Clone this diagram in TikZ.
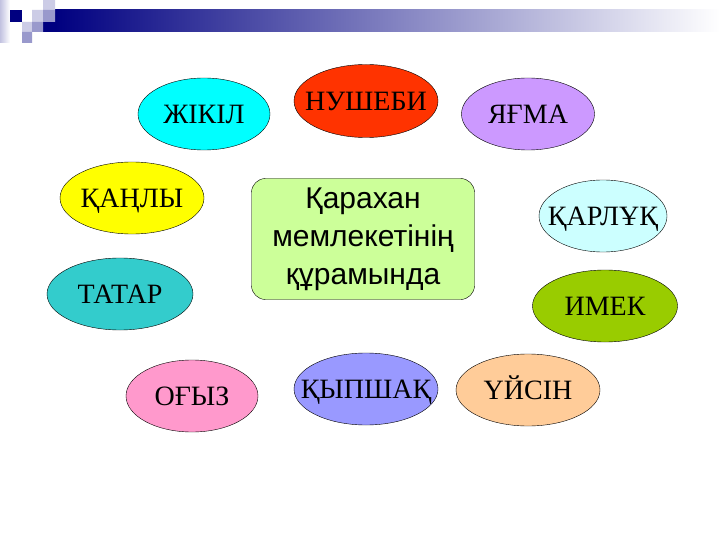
\documentclass[tikz,border=0pt]{standalone}
\usepackage{fontspec}
\setmainfont{Liberation Serif}
\setsansfont{Liberation Sans}
\usetikzlibrary{shapes}
\definecolor{navy}{RGB}{0,0,128}
\definecolor{lavlight}{RGB}{204,204,230}
\definecolor{lavmid}{RGB}{153,153,204}
\definecolor{kcyan}{RGB}{0,255,255}
\definecolor{kred}{RGB}{255,51,0}
\definecolor{kviolet}{RGB}{204,153,255}
\definecolor{kyellow}{RGB}{255,255,0}
\definecolor{kice}{RGB}{204,255,255}
\definecolor{kteal}{RGB}{51,204,204}
\definecolor{kolive}{RGB}{153,204,0}
\definecolor{kpink}{RGB}{255,153,204}
\definecolor{kblue}{RGB}{153,153,255}
\definecolor{kpeach}{RGB}{255,204,153}
\definecolor{kgreen}{RGB}{204,255,153}
\tikzstyle{tribe} = [ellipse, draw, thin, minimum width=144pt, minimum height=72pt,
    inner xsep=-30pt, inner ysep=0pt, text height=19pt, text depth=0pt,
    font=\fontsize{28}{34}\selectfont]
\tikzstyle{core} = [rectangle, draw, thin, fill=kgreen, rounded corners=14pt,
    minimum width=223pt, minimum height=121pt, align=center,
    font=\sffamily\fontsize{30}{38}\selectfont]

\begin{document}
\begin{tikzpicture}[x=1pt,y=-1pt]
  \fill[white] (0,0) rectangle (720,540);
  \useasboundingbox (0,0) rectangle (720,540);

  \shade[left color=lavmid!60, right color=white] (0,0) rectangle (10,43);
  \shade[left color=navy, right color=white] (55,10) rectangle (720,32);
  \fill[navy] (43,22) rectangle (55,32);
  \fill[navy] (10,10) rectangle (22,22);
  \fill[lavlight] (43,0) rectangle (55,10) (32,10) rectangle (43,22) (22,22) rectangle (32,32);
  \fill[lavmid] (43,10) rectangle (55,22) (32,22) rectangle (43,32) (22,32) rectangle (32,43);

  \node[core]                                   (K)  at (363,239) {Қарахан\\мемлекетінің\\құрамында};
  \node[tribe,fill=kcyan,minimum width=132pt]   (zh) at (204,114) {ЖІКІЛ};
  \node[tribe,fill=kred,minimum height=73pt]    (nu) at (366,101) {НУШЕБИ};
  \node[tribe,fill=kviolet,minimum width=133pt] (ya) at (528,114) {ЯҒМА};
  \node[tribe,fill=kyellow]                     (ka) at (132,198) {ҚАҢЛЫ};
  \node[tribe,fill=kice,minimum width=128pt]    (kr) at (603,216) {ҚАРЛҰҚ};
  \node[tribe,fill=kteal,minimum width=146pt]   (ta) at (120,294) {ТАТАР};
  \node[tribe,fill=kolive,minimum width=145pt]  (im) at (605,306) {ИМЕК};
  \node[tribe,fill=kpink,minimum width=132pt]   (og) at (192,396) {ОҒЫЗ};
  \node[tribe,fill=kblue]                       (ky) at (366,389) {ҚЫПШАҚ};
  \node[tribe,fill=kpeach]                      (uy) at (528,390) {ҮЙСІН};
\end{tikzpicture}
\end{document}
